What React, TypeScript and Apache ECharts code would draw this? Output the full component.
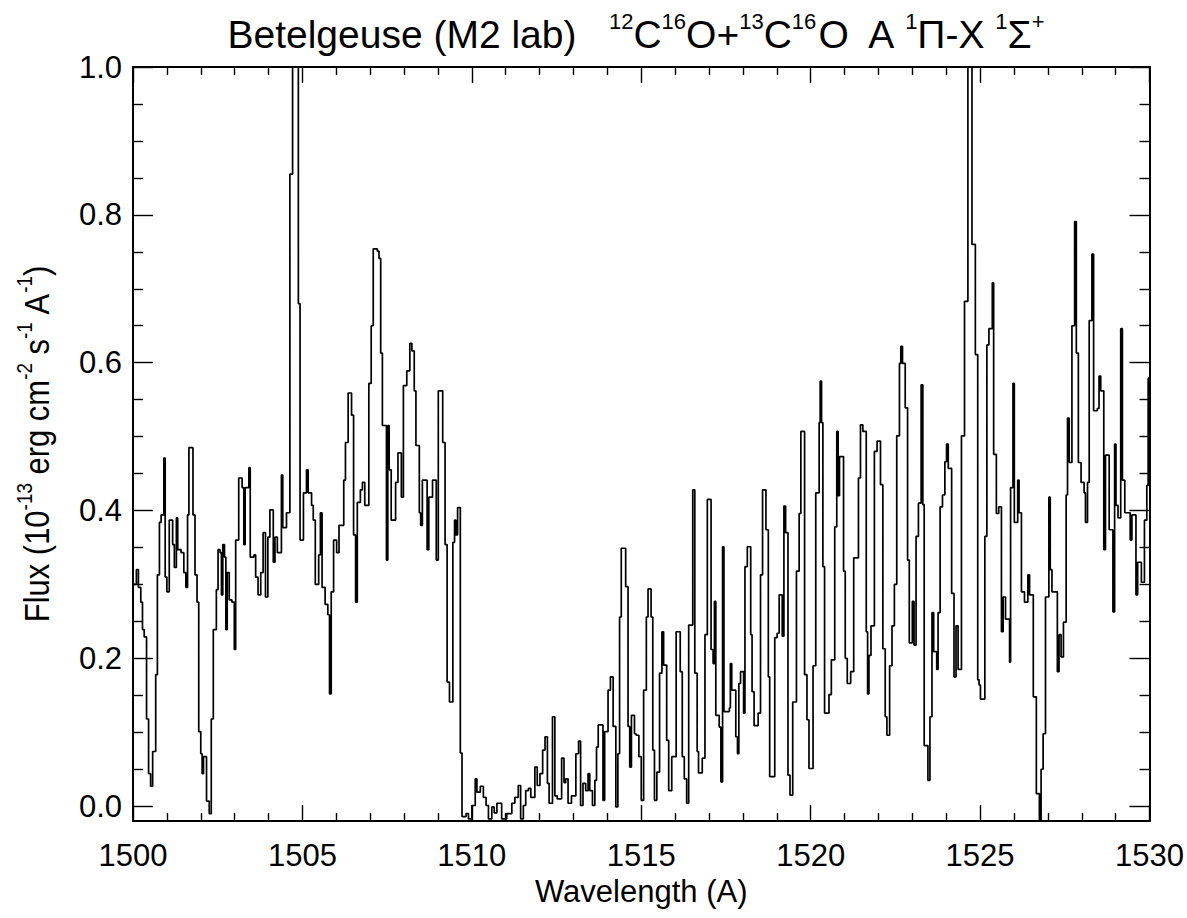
import React, { useEffect, useRef } from 'react';
import * as echarts from 'echarts';

// Wavelength (Å) at which each flux bin starts (step plot)
const wavelength = [
  1500.00, 1500.10, 1500.16, 1500.23, 1500.28, 1500.33, 1500.40, 1500.46, 1500.52, 1500.58,
  1500.67, 1500.72, 1500.78, 1500.83, 1500.91, 1500.95, 1501.00, 1501.07, 1501.17, 1501.22,
  1501.28, 1501.32, 1501.42, 1501.50, 1501.56, 1501.61, 1501.65, 1501.77, 1501.83, 1501.89,
  1501.94, 1502.00, 1502.04, 1502.08, 1502.17, 1502.25, 1502.31, 1502.37, 1502.46, 1502.51,
  1502.57, 1502.61, 1502.65, 1502.70, 1502.74, 1502.78, 1502.84, 1502.92, 1502.99, 1503.03,
  1503.12, 1503.22, 1503.27, 1503.31, 1503.42, 1503.46, 1503.57, 1503.62, 1503.69, 1503.77,
  1503.84, 1503.91, 1503.98, 1504.04, 1504.14, 1504.19, 1504.26, 1504.38, 1504.42, 1504.53,
  1504.63, 1504.71, 1504.88, 1504.93, 1505.03, 1505.12, 1505.17, 1505.27, 1505.32, 1505.38,
  1505.48, 1505.53, 1505.58, 1505.67, 1505.75, 1505.80, 1505.85, 1505.92, 1506.01, 1506.08,
  1506.22, 1506.27, 1506.35, 1506.45, 1506.51, 1506.57, 1506.62, 1506.71, 1506.77, 1506.84,
  1506.96, 1507.03, 1507.09, 1507.21, 1507.26, 1507.31, 1507.36, 1507.48, 1507.52, 1507.56,
  1507.62, 1507.75, 1507.82, 1507.92, 1507.98, 1508.08, 1508.17, 1508.23, 1508.30, 1508.35,
  1508.45, 1508.49, 1508.54, 1508.68, 1508.73, 1508.84, 1508.95, 1509.01, 1509.14, 1509.21,
  1509.27, 1509.34, 1509.44, 1509.49, 1509.53, 1509.58, 1509.66, 1509.71, 1509.83, 1509.90,
  1510.00, 1510.10, 1510.15, 1510.25, 1510.34, 1510.42, 1510.49, 1510.59, 1510.66, 1510.74,
  1510.88, 1511.03, 1511.18, 1511.27, 1511.37, 1511.44, 1511.52, 1511.59, 1511.67, 1511.74,
  1511.86, 1511.93, 1512.01, 1512.09, 1512.16, 1512.23, 1512.28, 1512.38, 1512.45, 1512.52,
  1512.65, 1512.72, 1512.77, 1512.84, 1512.94, 1513.07, 1513.15, 1513.21, 1513.28, 1513.36,
  1513.43, 1513.48, 1513.56, 1513.63, 1513.68, 1513.73, 1513.87, 1513.92, 1514.02, 1514.09,
  1514.17, 1514.25, 1514.31, 1514.36, 1514.41, 1514.54, 1514.61, 1514.66, 1514.71, 1514.80,
  1514.85, 1514.93, 1515.00, 1515.07, 1515.15, 1515.20, 1515.29, 1515.34, 1515.39, 1515.46,
  1515.54, 1515.61, 1515.66, 1515.75, 1515.81, 1515.90, 1516.03, 1516.15, 1516.21, 1516.27,
  1516.34, 1516.40, 1516.52, 1516.58, 1516.65, 1516.69, 1516.80, 1516.88, 1516.95, 1517.06,
  1517.12, 1517.16, 1517.20, 1517.30, 1517.35, 1517.40, 1517.44, 1517.60, 1517.63, 1517.67,
  1517.79, 1517.84, 1517.88, 1517.93, 1518.02, 1518.06, 1518.13, 1518.23, 1518.27, 1518.33,
  1518.45, 1518.52, 1518.58, 1518.68, 1518.75, 1518.79, 1518.94, 1519.01, 1519.07, 1519.16,
  1519.21, 1519.26, 1519.33, 1519.39, 1519.47, 1519.58, 1519.66, 1519.71, 1519.82, 1519.89,
  1519.95, 1520.07, 1520.15, 1520.25, 1520.28, 1520.32, 1520.36, 1520.41, 1520.54, 1520.61,
  1520.71, 1520.77, 1520.81, 1520.85, 1520.97, 1521.02, 1521.08, 1521.18, 1521.27, 1521.41,
  1521.47, 1521.54, 1521.64, 1521.68, 1521.72, 1521.78, 1521.88, 1521.96, 1522.06, 1522.13,
  1522.20, 1522.25, 1522.33, 1522.40, 1522.47, 1522.54, 1522.62, 1522.66, 1522.71, 1522.79,
  1522.86, 1522.91, 1523.00, 1523.05, 1523.11, 1523.18, 1523.26, 1523.31, 1523.35, 1523.46,
  1523.52, 1523.58, 1523.63, 1523.72, 1523.76, 1523.82, 1523.89, 1523.96, 1524.01, 1524.06,
  1524.16, 1524.23, 1524.29, 1524.35, 1524.45, 1524.54, 1524.64, 1524.76, 1524.86, 1524.93,
  1524.97, 1525.01, 1525.14, 1525.20, 1525.26, 1525.36, 1525.40, 1525.48, 1525.55, 1525.63,
  1525.68, 1525.75, 1525.87, 1525.90, 1525.97, 1526.01, 1526.11, 1526.15, 1526.22, 1526.31,
  1526.41, 1526.46, 1526.57, 1526.66, 1526.75, 1526.80, 1526.86, 1526.93, 1527.03, 1527.07,
  1527.12, 1527.28, 1527.33, 1527.39, 1527.46, 1527.54, 1527.58, 1527.63, 1527.71, 1527.79,
  1527.84, 1527.90, 1527.98, 1528.07, 1528.11, 1528.17, 1528.22, 1528.30, 1528.35, 1528.46,
  1528.51, 1528.56, 1528.65, 1528.70, 1528.81, 1528.92, 1528.97, 1529.01, 1529.07, 1529.15,
  1529.20, 1529.27, 1529.43, 1529.48, 1529.60, 1529.65, 1529.76, 1529.85, 1529.92, 1529.96,
  1530.00,
];

// Flux (10^-13 erg cm^-2 s^-1 A^-1) of each bin
const flux = [
  0.300, 0.320, 0.296, 0.276, 0.239, 0.229, 0.118, 0.044, 0.027, 0.074,
  0.178, 0.313, 0.384, 0.394, 0.471, 0.310, 0.290, 0.387, 0.354, 0.323,
  0.390, 0.347, 0.343, 0.316, 0.296, 0.394, 0.485, 0.394, 0.313, 0.276,
  0.101, 0.071, 0.044, 0.067, 0.007, -0.010, 0.118, 0.239, 0.293, 0.347,
  0.343, 0.286, 0.354, 0.337, 0.239, 0.316, 0.279, 0.276, 0.212, 0.360,
  0.444, 0.431, 0.354, 0.431, 0.458, 0.337, 0.340, 0.310, 0.286, 0.316,
  0.370, 0.283, 0.364, 0.401, 0.330, 0.364, 0.343, 0.448, 0.377, 0.397,
  0.855, 1.300, 0.680, 0.360, 0.424, 0.455, 0.424, 0.407, 0.387, 0.300,
  0.340, 0.397, 0.296, 0.273, 0.259, 0.152, 0.290, 0.360, 0.343, 0.380,
  0.441, 0.492, 0.559, 0.529, 0.367, 0.276, 0.411, 0.428, 0.438, 0.407,
  0.572, 0.650, 0.754, 0.751, 0.741, 0.613, 0.515, 0.333, 0.515, 0.455,
  0.387, 0.438, 0.478, 0.418, 0.569, 0.589, 0.626, 0.616, 0.562, 0.488,
  0.397, 0.380, 0.441, 0.347, 0.418, 0.441, 0.333, 0.562, 0.492, 0.354,
  0.168, 0.141, 0.357, 0.387, 0.367, 0.404, 0.072, -0.014, -0.010, -0.017,
  0.001, 0.037, 0.019, 0.027, 0.012, 0.001, -0.017, -0.001, -0.009, 0.004,
  -0.017, -0.010, 0.004, 0.012, 0.028, -0.017, 0.001, 0.021, 0.024, 0.012,
  0.053, 0.028, 0.044, 0.076, 0.094, 0.031, 0.004, 0.121, 0.014, 0.010,
  0.065, 0.032, 0.037, 0.004, 0.014, 0.071, 0.088, 0.001, 0.031, 0.021,
  0.044, 0.021, 0.001, 0.035, 0.080, 0.110, 0.008, 0.101, 0.157, 0.175,
  0.108, -0.001, 0.071, 0.256, 0.349, 0.297, 0.108, 0.053, 0.123, 0.098,
  0.096, 0.067, 0.008, 0.157, 0.256, 0.294, 0.256, 0.076, 0.008, 0.046,
  0.180, 0.236, 0.191, 0.089, 0.021, 0.067, 0.236, 0.182, 0.067, 0.037,
  0.004, 0.245, 0.428, 0.180, 0.074, 0.045, 0.065, 0.232, 0.415, 0.212,
  0.193, 0.277, 0.123, 0.107, 0.033, 0.351, 0.128, 0.133, 0.193, 0.157,
  0.094, 0.071, 0.166, 0.182, 0.126, 0.324, 0.351, 0.232, 0.155, 0.109,
  0.126, 0.313, 0.428, 0.374, 0.175, 0.040, 0.228, 0.234, 0.286, 0.230,
  0.406, 0.370, 0.042, 0.015, 0.141, 0.318, 0.396, 0.507, 0.178, 0.117,
  0.051, 0.190, 0.424, 0.519, 0.575, 0.519, 0.324, 0.126, 0.151, 0.198,
  0.378, 0.507, 0.420, 0.473, 0.318, 0.200, 0.166, 0.182, 0.336, 0.444,
  0.516, 0.507, 0.236, 0.152, 0.204, 0.244, 0.480, 0.494, 0.435, 0.213,
  0.121, 0.096, 0.190, 0.244, 0.300, 0.501, 0.599, 0.622, 0.599, 0.539,
  0.333, 0.221, 0.277, 0.218, 0.365, 0.410, 0.570, 0.408, 0.082, 0.035,
  0.121, 0.262, 0.209, 0.185, 0.262, 0.405, 0.421, 0.466, 0.490, 0.457,
  0.288, 0.175, 0.244, 0.185, 0.501, 0.683, 1.300, 0.760, 0.611, 0.171,
  0.164, 0.145, 0.365, 0.624, 0.646, 0.708, 0.476, 0.396, 0.405, 0.236,
  0.283, 0.253, 0.195, 0.431, 0.572, 0.384, 0.441, 0.397, 0.290, 0.276,
  0.313, 0.286, 0.148, 0.017, -0.019, 0.050, 0.098, 0.283, 0.418, 0.320,
  0.290, 0.182, 0.232, 0.202, 0.249, 0.421, 0.525, 0.465, 0.650, 0.791,
  0.613, 0.465, 0.438, 0.424, 0.384, 0.438, 0.657, 0.747, 0.535, 0.538,
  0.582, 0.562, 0.347, 0.475, 0.374, 0.263, 0.490, 0.407, 0.390, 0.646,
  0.441, 0.397, 0.360, 0.394, 0.286, 0.330, 0.303, 0.387, 0.434, 0.579,
  0.579,
];

const xMin = 1500;
const xMax = 1530;
const xInterval = 5;
const yMin = -0.02;
const yMax = 1.0;
const yMajorTicks = [0, 0.2, 0.4, 0.6, 0.8, 1.0];
const yMinorTicks = [0.05, 0.1, 0.15, 0.25, 0.3, 0.35, 0.45, 0.5, 0.55, 0.65, 0.7, 0.75, 0.85, 0.9, 0.95];

const FONT = '"Liberation Sans", Arial, Helvetica, sans-serif';
const INK = '#000';

export default function App() {
  const ref = useRef<HTMLDivElement>(null);

  useEffect(() => {
    if (!ref.current) return;
    const chart = echarts.init(ref.current, null, { renderer: 'svg' });

    const lineStyle = { color: INK, width: 2 };
    const tickStyle = { color: INK, width: 1.4 };

    const xCommon = {
      type: 'value' as const,
      min: xMin,
      max: xMax,
      interval: xInterval,
      splitLine: { show: false },
      axisLine: { show: true, onZero: false, lineStyle },
      axisTick: { show: true, inside: true, length: 16, lineStyle: tickStyle },
      minorTick: { show: true, splitNumber: 5, length: 8, lineStyle: tickStyle },
      minorSplitLine: { show: false },
    };

    const yCommon = {
      type: 'value' as const,
      min: yMin,
      max: yMax,
      splitLine: { show: false },
      minorSplitLine: { show: false },
    };

    const data = wavelength.map((w, i) => [w, flux[i]]);

    chart.setOption({
      animation: false,
      backgroundColor: '#fff',
      textStyle: { fontFamily: FONT, color: INK },
      grid: { left: 133, right: 36, top: 67, bottom: 97, containLabel: false },
      xAxis: [
        {
          ...xCommon,
          position: 'bottom',
          axisLabel: {
            show: true,
            fontSize: 31,
            color: INK,
            fontFamily: FONT,
            margin: 19,
            formatter: (v: number) => String(v),
          },
          name: 'Wavelength (A)',
          nameLocation: 'middle',
          nameGap: 54,
          nameTextStyle: { fontSize: 31, color: INK, fontFamily: FONT },
        },
        {
          ...xCommon,
          position: 'top',
          axisLabel: { show: false },
        },
      ],
      yAxis: [
        {
          ...yCommon,
          position: 'left',
          axisLine: { show: true, onZero: false, lineStyle },
          axisTick: { show: true, inside: true, length: 20, lineStyle: tickStyle, customValues: yMajorTicks },
          axisLabel: {
            show: true,
            fontSize: 31,
            color: INK,
            fontFamily: FONT,
            margin: 11,
            customValues: yMajorTicks,
            formatter: (v: number) => v.toFixed(1),
          },
        },
        {
          ...yCommon,
          position: 'left',
          offset: 0,
          axisLine: { show: false },
          axisTick: { show: true, inside: true, length: 10, lineStyle: tickStyle, customValues: yMinorTicks },
          axisLabel: { show: false },
        },
        {
          ...yCommon,
          position: 'right',
          offset: 0,
          axisLine: { show: true, onZero: false, lineStyle },
          axisTick: { show: true, inside: true, length: 20, lineStyle: tickStyle, customValues: yMajorTicks },
          axisLabel: { show: false },
        },
        {
          ...yCommon,
          position: 'right',
          offset: 0,
          axisLine: { show: false },
          axisTick: { show: true, inside: true, length: 10, lineStyle: tickStyle, customValues: yMinorTicks },
          axisLabel: { show: false },
        },
      ],
      graphic: [
        {
          type: 'text',
          x: 636,
          y: 32,
          silent: true,
          style: {
            text:
              '{b|Betelgeuse (M2 lab)   }{s|12}{b|C}{s|16}{b|O+}{s|13}{b|C}{s|16}{b|O  A }{s|1}{b|Π-X }{s|1}{b|Σ}{s|+}',
            align: 'center',
            verticalAlign: 'middle',
            textAlign: 'center',
            textVerticalAlign: 'middle',
            fontFamily: FONT,
            fill: INK,
            rich: {
              b: { fontSize: 39, fontFamily: FONT, fill: INK, color: INK, verticalAlign: 'bottom', lineHeight: 44 },
              s: { fontSize: 22, fontFamily: FONT, fill: INK, color: INK, verticalAlign: 'top' },
            },
          },
        },
        {
          type: 'text',
          x: 34,
          y: 444,
          rotation: Math.PI / 2,
          scaleX: 0.86,
          silent: true,
          style: {
            text: '{b|Flux (10}{s|-13}{b| erg cm}{s|-2}{b| s}{s|-1}{b| A}{s|-1}{b|)}',
            align: 'center',
            verticalAlign: 'middle',
            textAlign: 'center',
            textVerticalAlign: 'middle',
            fontFamily: FONT,
            fill: INK,
            rich: {
              b: { fontSize: 36, fontFamily: FONT, fill: INK, color: INK, verticalAlign: 'bottom', lineHeight: 42 },
              s: { fontSize: 22, fontFamily: FONT, fill: INK, color: INK, verticalAlign: 'top' },
            },
          },
        },
      ],
      series: [
        {
          type: 'line',
          xAxisIndex: 0,
          yAxisIndex: 0,
          step: 'end',
          data,
          symbol: 'none',
          showSymbol: false,
          clip: true,
          silent: true,
          lineStyle: { color: INK, width: 1.7 },
        },
      ],
    });

    return () => {
      chart.dispose();
    };
  }, []);

  return (
    <div
      ref={ref}
      style={{ position: 'absolute', left: 0, top: 0, width: 1187, height: 918, background: '#fff' }}
    />
  );
}
